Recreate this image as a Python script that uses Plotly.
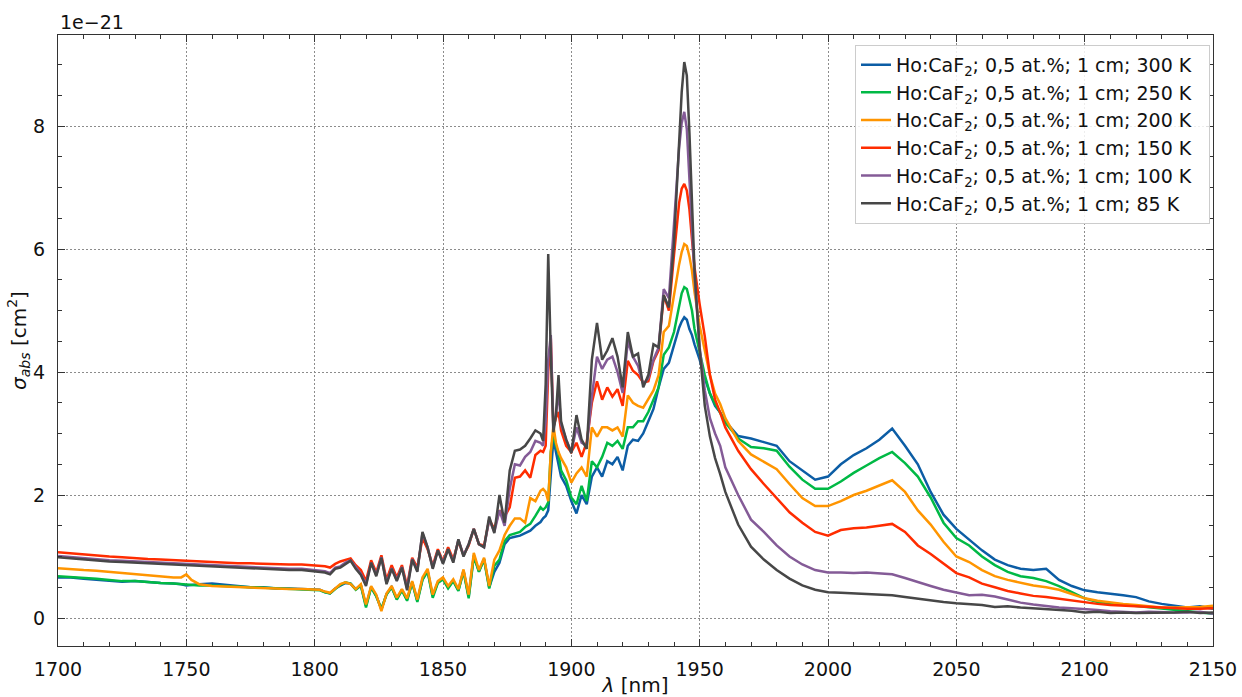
import plotly.graph_objects as go

# Wavelength grid (nm): coarse on the flat wings, fine around the sharp lines
wl_a = [1700, 1705, 1710, 1715, 1720, 1725, 1730, 1735, 1740, 1745, 1748, 1750,
        1752, 1755, 1760, 1765, 1770, 1775, 1780, 1785, 1790, 1795]
wl_b = list(range(1800, 1889, 2))
wl_c = [1889, 1890, 1891, 1892, 1893, 1894, 1895, 1896]
wl_d = list(range(1898, 1941, 2))
wl_e = [1941, 1942, 1943, 1944, 1945, 1946, 1947, 1948]
wl_f = [1950, 1952, 1954, 1956, 1958, 1960]
wl_g = list(range(1965, 2151, 5))
wavelength = wl_a + wl_b + wl_c + wl_d + wl_e + wl_f + wl_g

# Absorption cross-section, units of 1e-21 cm^2
sigma_300K = [
    0.66, 0.66, 0.64, 0.62, 0.61, 0.59, 0.60, 0.58, 0.57, 0.56, 0.55, 0.53,
    0.54, 0.55, 0.56, 0.54, 0.51, 0.50, 0.50, 0.48, 0.48, 0.47,
    0.46, 0.46, 0.42, 0.40, 0.48, 0.53, 0.57, 0.56, 0.47, 0.53, 0.20, 0.50,
    0.36, 0.14, 0.39, 0.50, 0.31, 0.46, 0.30, 0.58, 0.28, 0.63, 0.77, 0.36,
    0.58, 0.64, 0.50, 0.61, 0.45, 0.77, 0.35, 1.02, 0.76, 0.96, 0.50, 0.75,
    0.90, 1.20, 1.30, 1.32, 1.34, 1.38, 1.42, 1.50, 1.56,
    1.62, 1.66, 1.75, 2.37, 2.91, 2.70, 2.48, 2.30,
    2.15, 1.90, 1.70, 2.00, 1.85, 2.30, 2.45, 2.30, 2.55, 2.50, 2.62, 2.40,
    2.80, 2.90, 2.88, 3.00, 3.20, 3.40, 3.75, 4.05, 4.15, 4.45,
    4.60, 4.72, 4.82, 4.89, 4.85, 4.70, 4.60, 4.45,
    4.20, 3.90, 3.65, 3.45, 3.34, 3.20,
    2.96, 2.92, 2.86, 2.80, 2.55, 2.40, 2.25, 2.30, 2.50, 2.65, 2.76, 2.90,
    3.08, 2.80, 2.50, 2.05, 1.68, 1.45, 1.28, 1.10, 0.95, 0.86, 0.80, 0.78,
    0.80, 0.62, 0.52, 0.45, 0.42, 0.40, 0.37, 0.34, 0.27, 0.23, 0.20, 0.17,
    0.19, 0.15,
]
sigma_250K = [
    0.68, 0.67, 0.66, 0.64, 0.62, 0.60, 0.60, 0.58, 0.57, 0.56, 0.55, 0.54,
    0.53, 0.53, 0.53, 0.52, 0.51, 0.50, 0.49, 0.49, 0.47, 0.46,
    0.45, 0.45, 0.42, 0.40, 0.47, 0.54, 0.58, 0.56, 0.46, 0.53, 0.17, 0.50,
    0.35, 0.15, 0.38, 0.50, 0.30, 0.45, 0.28, 0.58, 0.26, 0.62, 0.76, 0.33,
    0.57, 0.63, 0.48, 0.60, 0.44, 0.76, 0.32, 1.00, 0.75, 0.95, 0.48, 0.85,
    0.95, 1.25, 1.35, 1.38, 1.40, 1.48, 1.53, 1.66, 1.80,
    1.76, 1.80, 1.88, 2.70, 3.00, 2.80, 2.68, 2.40,
    2.24, 1.96, 1.85, 2.15, 1.90, 2.55, 2.45, 2.62, 2.85, 2.80, 2.88, 2.75,
    3.10, 3.10, 3.20, 3.20, 3.35, 3.55, 3.75, 4.28, 4.40, 4.65,
    4.85, 5.10, 5.28, 5.38, 5.35, 5.18, 5.00, 4.70,
    4.30, 3.95, 3.65, 3.48, 3.34, 3.18,
    2.92, 2.78, 2.76, 2.72, 2.46, 2.25, 2.10, 2.10, 2.22, 2.36, 2.48, 2.60,
    2.70, 2.52, 2.30, 1.96, 1.55, 1.30, 1.18, 1.00, 0.86, 0.75, 0.68, 0.65,
    0.60, 0.52, 0.42, 0.32, 0.26, 0.24, 0.22, 0.20, 0.17, 0.16, 0.13, 0.12,
    0.09, 0.07,
]
sigma_200K = [
    0.81, 0.79, 0.78, 0.77, 0.75, 0.73, 0.72, 0.70, 0.68, 0.66, 0.66, 0.71,
    0.62, 0.55, 0.52, 0.51, 0.50, 0.49, 0.49, 0.48, 0.47, 0.47,
    0.47, 0.46, 0.43, 0.41, 0.48, 0.55, 0.58, 0.55, 0.47, 0.55, 0.22, 0.52,
    0.38, 0.11, 0.40, 0.52, 0.33, 0.47, 0.32, 0.60, 0.30, 0.66, 0.80, 0.38,
    0.60, 0.66, 0.52, 0.63, 0.47, 0.79, 0.38, 1.06, 0.78, 0.98, 0.52, 0.95,
    1.10, 1.35, 1.50, 1.62, 1.62, 1.55, 1.95, 1.90, 2.07,
    2.10, 2.05, 1.90, 2.70, 3.13, 2.85, 2.70, 2.60,
    2.45, 2.20, 2.35, 2.45, 2.30, 3.10, 2.95, 3.10, 3.10, 3.05, 3.10, 2.95,
    3.62, 3.50, 3.45, 3.42, 3.55, 3.70, 3.95, 4.65, 4.75, 5.25,
    5.55, 5.75, 5.95, 6.08, 6.05, 5.88, 5.65, 5.30,
    4.75, 4.35, 3.95, 3.65, 3.48, 3.25,
    2.88, 2.66, 2.54, 2.42, 2.18, 1.95, 1.82, 1.82, 1.90, 2.00, 2.07, 2.15,
    2.24, 2.05, 1.75, 1.52, 1.24, 1.00, 0.91, 0.78, 0.68, 0.62, 0.57, 0.53,
    0.50, 0.46, 0.39, 0.32, 0.28, 0.25, 0.23, 0.21, 0.19, 0.17, 0.17, 0.17,
    0.18, 0.20,
]
sigma_150K = [
    1.07, 1.05, 1.04, 1.02, 1.00, 0.99, 0.97, 0.96, 0.95, 0.94, 0.94, 0.93,
    0.92, 0.92, 0.91, 0.90, 0.89, 0.89, 0.88, 0.88, 0.87, 0.87,
    0.86, 0.85, 0.84, 0.82, 0.88, 0.92, 0.95, 0.97, 0.86, 0.78, 0.60, 0.94,
    0.74, 1.02, 0.62, 0.86, 0.66, 0.86, 0.52, 0.98, 0.82, 1.30, 1.12, 0.85,
    1.12, 0.92, 1.15, 0.95, 1.25, 1.02, 1.18, 1.45, 1.20, 1.18, 1.60, 1.45,
    1.75, 1.65, 1.80, 2.28, 2.30, 2.40, 2.28, 2.65, 2.72,
    2.70, 2.80, 4.00, 4.55, 3.10, 3.25, 3.35, 3.05,
    2.80, 2.70, 2.85, 2.62, 2.86, 3.50, 3.85, 3.55, 3.75, 3.60, 3.72, 3.45,
    4.18, 4.02, 3.95, 3.83, 3.85, 4.18, 4.35, 5.25, 5.00, 5.90,
    6.35, 6.75, 6.98, 7.06, 6.95, 6.65, 6.16, 5.70,
    5.10, 4.58, 3.95, 3.55, 3.34, 3.10,
    2.72, 2.42, 2.18, 1.95, 1.72, 1.55, 1.40, 1.34, 1.43, 1.46, 1.47, 1.50,
    1.53, 1.40, 1.18, 1.04, 0.88, 0.73, 0.66, 0.56, 0.50, 0.44, 0.40, 0.36,
    0.34, 0.31, 0.28, 0.25, 0.23, 0.21, 0.20, 0.19, 0.17, 0.16, 0.15, 0.15,
    0.15, 0.16,
]
sigma_100K = [
    1.01, 0.99, 0.97, 0.95, 0.94, 0.93, 0.92, 0.91, 0.90, 0.89, 0.88, 0.88,
    0.87, 0.86, 0.86, 0.85, 0.83, 0.82, 0.82, 0.81, 0.80, 0.80,
    0.78, 0.77, 0.76, 0.73, 0.82, 0.84, 0.90, 0.94, 0.82, 0.72, 0.55, 0.90,
    0.70, 0.99, 0.57, 0.81, 0.62, 0.83, 0.48, 0.96, 0.77, 1.38, 1.15, 0.82,
    1.10, 0.90, 1.12, 0.92, 1.27, 1.02, 1.20, 1.45, 1.20, 1.15, 1.60, 1.40,
    1.75, 1.50, 2.10, 2.50, 2.48, 2.62, 2.70, 2.88, 2.85,
    2.80, 3.20, 4.20, 4.60, 3.10, 3.30, 3.70, 3.15,
    2.90, 2.70, 3.10, 2.85, 2.80, 3.60, 4.25, 4.05, 4.20, 4.25, 4.00, 3.66,
    4.50, 4.25, 4.10, 3.80, 3.90, 4.20, 4.40, 5.35, 5.20, 6.40,
    7.05, 7.65, 8.05, 8.23, 7.95, 7.20, 6.35, 5.55,
    4.40, 3.70, 3.25, 3.00, 2.80, 2.45,
    2.00, 1.60, 1.40, 1.18, 1.00, 0.87, 0.78, 0.74, 0.74, 0.73, 0.74, 0.72,
    0.71, 0.65, 0.58, 0.52, 0.46, 0.42, 0.37, 0.38, 0.35, 0.30, 0.25, 0.22,
    0.19, 0.17, 0.16, 0.15, 0.13, 0.11, 0.10, 0.09, 0.10, 0.09, 0.09, 0.09,
    0.10, 0.07,
]
sigma_85K = [
    0.99, 0.97, 0.95, 0.94, 0.92, 0.91, 0.90, 0.89, 0.88, 0.87, 0.86, 0.86,
    0.85, 0.84, 0.84, 0.83, 0.81, 0.80, 0.80, 0.79, 0.78, 0.78,
    0.76, 0.75, 0.74, 0.71, 0.80, 0.82, 0.88, 0.93, 0.80, 0.70, 0.52, 0.90,
    0.68, 0.98, 0.55, 0.80, 0.60, 0.82, 0.45, 0.95, 0.75, 1.40, 1.15, 0.80,
    1.10, 0.88, 1.12, 0.90, 1.28, 1.00, 1.20, 1.45, 1.20, 1.15, 1.65, 1.38,
    2.00, 1.55, 2.40, 2.72, 2.74, 2.80, 2.92, 3.05, 3.00,
    2.88, 3.80, 5.92, 4.30, 3.02, 3.30, 3.95, 3.20,
    2.90, 2.68, 3.30, 2.90, 2.75, 4.20, 4.80, 4.20, 4.35, 4.55, 4.25, 3.75,
    4.65, 4.25, 4.30, 3.75, 3.95, 4.45, 4.40, 5.25, 5.05, 6.10,
    6.95, 7.70, 8.55, 9.04, 8.82, 7.90, 6.85, 5.65,
    4.37, 3.45, 2.95, 2.60, 2.34, 2.05,
    1.52, 1.16, 0.95, 0.78, 0.64, 0.53, 0.46, 0.42, 0.41, 0.40, 0.39, 0.38,
    0.37, 0.34, 0.31, 0.28, 0.26, 0.24, 0.23, 0.21, 0.18, 0.19, 0.17, 0.16,
    0.15, 0.14, 0.12, 0.09, 0.10, 0.08, 0.09, 0.08, 0.08, 0.08, 0.09, 0.10,
    0.08, 0.09,
]

temperatures = ["300 K", "250 K", "200 K", "150 K", "100 K", "85 K"]
colors = ["#0C5DA5", "#00B945", "#FF9500", "#FF2C00", "#845B97", "#474747"]
series = [sigma_300K, sigma_250K, sigma_200K, sigma_150K, sigma_100K, sigma_85K]

FONT = "DejaVu Sans"
NBSP = "\u00a0"

fig = go.Figure()
for i, (temp, col, ys) in enumerate(zip(temperatures, colors, series)):
    assert len(ys) == len(wavelength), (temp, len(ys), len(wavelength))
    fig.add_trace(go.Scatter(
        x=wavelength, y=ys, mode="lines",
        line=dict(color=col, width=2.5),
        name=f"Ho:CaF<sub>2</sub>; 0,5 at.%; 1 cm; {temp}" + NBSP * 2,
        legendgroup=f"g{i}",
    ))

axis_common = dict(
    showline=True, linecolor="#333333", linewidth=1.3, mirror="ticks",
    ticks="inside", ticklen=7, tickwidth=1.2, tickcolor="#333333",
    showgrid=True, gridcolor="#8c8c8c", gridwidth=0.7, griddash="2px,2px",
    zeroline=False,
    tickfont=dict(family=FONT, size=19, color="#111111"),
)

fig.update_xaxes(
    range=[1700, 2150], dtick=50, tick0=1700,
    minor=dict(dtick=10, ticks="inside", ticklen=4, tickwidth=1, tickcolor="#333333",
               showgrid=False),
    title=dict(text="<i>λ</i> [nm]", font=dict(family=FONT, size=20, color="#111111"),
               standoff=6),
    ticklabelstandoff=6,
    **axis_common,
)
fig.update_yaxes(
    range=[-0.455, 9.48], dtick=2, tick0=0,
    minor=dict(dtick=0.5, ticks="inside", ticklen=4, tickwidth=1, tickcolor="#333333",
               showgrid=False),
    title=dict(text="<i>σ<sub>abs</sub></i> [cm<sup>2</sup>]",
               font=dict(family=FONT, size=20, color="#111111"), standoff=0),
    ticklabelstandoff=8,
    **axis_common,
)

fig.add_annotation(
    text="1e−21", xref="paper", yref="paper", x=0, y=1,
    xanchor="left", yanchor="bottom", showarrow=False, yshift=0,
    font=dict(family=FONT, size=19, color="#111111"),
)

fig.update_layout(
    width=1242, height=697,
    margin=dict(l=58, r=29, t=35, b=51, autoexpand=False),
    paper_bgcolor="white", plot_bgcolor="white",
    showlegend=True,
    legend=dict(
        x=0.9974, y=0.984, xanchor="right", yanchor="top",
        bgcolor="rgba(255,255,255,0.85)", bordercolor="#cccccc", borderwidth=1,
        font=dict(family=FONT, size=19, color="#111111"),
        tracegroupgap=7, traceorder="normal",
    ),
)

fig.write_html("out.html")
